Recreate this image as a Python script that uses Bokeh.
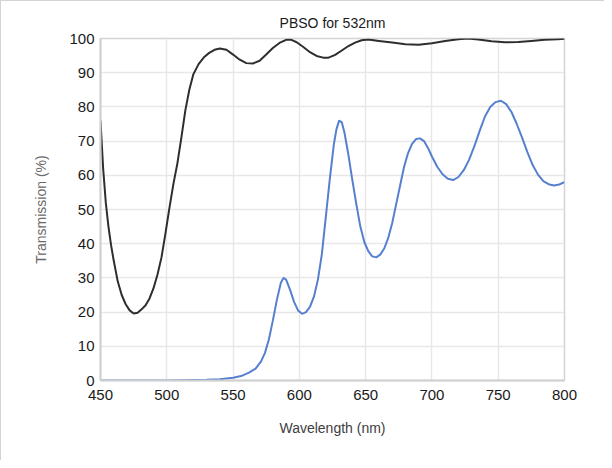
from bokeh.plotting import figure
from bokeh.models import FixedTicker, Range1d
from bokeh.embed import file_html
from bokeh.resources import INLINE

# --- data ---
x_ticks = [450, 500, 550, 600, 650, 700, 750, 800]
y_ticks = [0, 10, 20, 30, 40, 50, 60, 70, 80, 90, 100]

wl_black = [450, 452, 454, 456, 458, 460, 463, 466, 469, 472, 475, 478, 481, 484, 487,
            490, 493, 496, 499, 502, 505, 508, 511, 514, 517, 520, 524, 528, 532, 536,
            540, 545, 550, 555, 560, 565, 570, 575, 580, 585, 590, 594, 598, 603, 608,
            613, 618, 622, 627, 632, 637, 642, 647, 652, 660, 670, 680, 690, 700, 710,
            720, 727, 735, 745, 755, 765, 775, 785, 795, 800]
t_black = [76, 62, 52, 45, 39.5, 35, 29, 25, 22.3, 20.5, 19.6, 19.8, 20.8, 22, 24,
           27, 31, 36, 43, 50.5, 57.5, 63.5, 71, 79, 85, 89.5, 92.5, 94.5, 95.8, 96.7,
           97.1, 96.7, 95.3, 93.8, 92.8, 92.7, 93.5, 95.3, 97.2, 98.7, 99.6, 99.6, 98.9, 97.5, 96,
           94.9, 94.4, 94.4, 95.2, 96.5, 97.8, 98.8, 99.5, 99.7, 99.3, 98.8, 98.3, 98.2, 98.6, 99.3,
           99.8, 100, 99.7, 99.2, 98.9, 99.0, 99.3, 99.6, 99.8, 99.9]

wl_blue = [450, 500, 530, 540, 550, 556, 562, 567, 571, 574, 577, 580, 583, 586, 588,
           590, 593, 596, 599, 602, 605, 608, 611, 614, 617, 620, 623, 626, 628, 630,
           632, 634, 637, 640, 643, 646, 649, 652, 655, 658, 661, 664, 667, 670, 673,
           676, 679, 682, 685, 688, 691, 694, 697, 700, 704, 708, 712, 716, 720, 724,
           728, 732, 736, 740, 744, 748, 752, 756, 760, 764, 768, 772, 776, 780, 784,
           788, 792, 796, 800]
t_blue = [0, 0, 0.2, 0.4, 0.8, 1.3, 2.3, 3.5, 5.5, 8, 12, 17.5, 23.5, 28.5, 30,
          29.5, 26.5, 23, 20.5, 19.5, 20, 21.5, 24.5, 29.5, 37, 48, 59, 69, 73.5, 76,
          75.5, 72.5, 66, 58.5, 51.5, 45, 40.5, 37.8, 36.3, 36, 36.8, 38.6, 41.6, 46, 51.5,
          57, 62.5, 66.5, 69.2, 70.6, 70.8, 70, 68, 65.5, 62.5, 60.3, 59, 58.6, 59.5, 61.5,
          64.5, 68.5, 73, 77.2, 80, 81.4, 81.8, 80.8, 78.5, 75, 71, 66.8, 63, 60.2, 58.3,
          57.4, 57, 57.3, 58]

FONT = "Liberation Sans"

p = figure(width=604, height=460, output_backend="svg", toolbar_location=None,
           x_range=Range1d(450, 800), y_range=Range1d(0, 100),
           min_border_left=99, min_border_right=41, min_border_top=37, min_border_bottom=81,
           title="PBSO for 532nm")
p.styles = {"border-top": "1px solid #d4d4d4", "border-left": "1px solid #d4d4d4"}

p.title.align = "center"
p.title.text_font = FONT
p.title.text_font_size = "14px"
p.title.text_font_style = "normal"
p.title.text_color = "#1a1a1a"
p.title.standoff = 15

p.line(wl_black, t_black, line_color="#2e2e2e", line_width=2)
p.line(wl_blue, t_blue, line_color="#5680cf", line_width=2)

p.xaxis.ticker = FixedTicker(ticks=x_ticks)
p.yaxis.ticker = FixedTicker(ticks=y_ticks)

for ax in (p.xaxis[0], p.yaxis[0]):
    ax.major_tick_line_color = None
    ax.minor_tick_line_color = None
    ax.axis_line_color = "#d0d0d0"
    ax.axis_line_width = 2
    ax.major_label_text_font = FONT
    ax.major_label_text_font_size = "15px"
    ax.major_label_text_color = "#1a1a1a"
    ax.axis_label_text_font = FONT
    ax.axis_label_text_font_style = "normal"
    ax.axis_label_text_font_size = "14px"

p.xaxis.axis_label = "Wavelength (nm)"
p.xaxis.axis_label_text_color = "#404040"
p.xaxis.major_label_standoff = 3
p.xaxis.axis_label_standoff = 17
p.yaxis.axis_label = "Transmission (%)"
p.yaxis.axis_label_text_color = "#6a6a6a"
p.yaxis.major_label_standoff = 0
p.yaxis.axis_label_standoff = 17

p.xgrid.grid_line_color = "#e8e8e8"
p.ygrid.grid_line_color = "#e8e8e8"
p.xgrid.grid_line_width = 1.5
p.ygrid.grid_line_width = 1.5
p.outline_line_color = "#d4d4d4"
p.outline_line_width = 1.5
p.background_fill_color = "white"
p.border_fill_color = "white"

open("out.html", "w").write(file_html(p, INLINE))
